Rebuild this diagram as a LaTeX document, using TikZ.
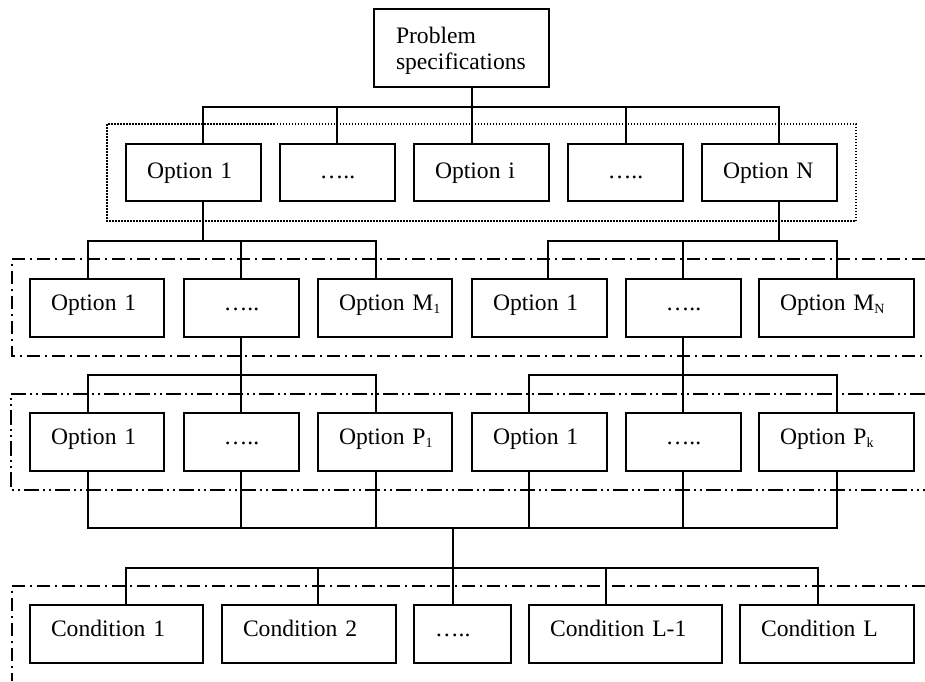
\documentclass[tikz,border=0pt]{standalone}
\usepackage{fontspec}
\setmainfont{Liberation Serif}
\newcommand\mysub[1]{\raisebox{-3pt}{\fontsize{14}{14}\selectfont #1}}
\newcommand\mkbox[7]{%
  \pgfmathsetmacro\mybw{#4-#2-42}%
  \pgfmathsetmacro\mycx{(#2+#4)/2}%
  \pgfmathsetmacro\mycy{(#3+#5)/2}%
  \pgfmathsetmacro\mybh{#5-#3}%
  \node[bx,#6,text width=\mybw pt,minimum height=\mybh pt] (#1) at (\mycx,\mycy) {#7};}
\begin{document}
\begin{tikzpicture}[x=1pt,y=-1pt,
  bx/.style={draw, line width=2pt, inner xsep=21pt, inner ysep=0pt, align=left,
    font=\fontsize{23.6}{25}\selectfont, text height=16.5pt, text depth=10.6pt},
  lvone/.style={text depth=4.7pt},
  mid/.style={align=center},
  topbox/.style={text height=, text depth=, inner xsep=22pt, font=\fontsize{23.6}{26}\selectfont},
  wire/.style={line width=2pt, line cap=rect},
  dotframe/.style={line width=1.5pt, dash pattern=on 1.5pt off 1.5pt},
  dashdot/.style={line width=1.6pt, dash pattern=on 13pt off 5pt on 2pt off 5pt},
  dashdotdot/.style={line width=1.6pt, dash pattern=on 15pt off 4pt on 2pt off 4pt on 2pt off 4pt}]
\useasboundingbox (0,0) rectangle (925,681);

% frames
\draw[dotframe] (107,124) rectangle (856,221);
\draw[dashdot] (925,259) -- (12,259) -- (12,356) -- (925,356);
\draw[dashdotdot] (925,394) -- (11,394) -- (11,490) -- (925,490);
\draw[dashdot] (925,586) -- (12,586) -- (12,681);

% top
\mkbox{top}{375}{9}{548}{87}{topbox}{\rule{0pt}{22pt}Problem\\specifications}

% level 1
\mkbox{a1}{126}{144}{261}{201}{lvone}{\mbox{Option 1}}
\mkbox{a2}{280}{144}{395}{201}{lvone,mid}{…..}
\mkbox{a3}{414}{144}{549}{201}{lvone}{\mbox{Option i}}
\mkbox{a4}{568}{144}{683}{201}{lvone,mid}{…..}
\mkbox{a5}{702}{144}{837}{201}{lvone}{\mbox{Option N}}

% level 2
\mkbox{b1}{30}{279}{164}{337}{}{\mbox{Option 1}}
\mkbox{b2}{184}{279}{299}{337}{mid}{…..}
\mkbox{b3}{318}{279}{452}{337}{}{\mbox{Option M\mysub{1}}}
\mkbox{b4}{472}{279}{607}{337}{}{\mbox{Option 1}}
\mkbox{b5}{626}{279}{741}{337}{mid}{…..}
\mkbox{b6}{759}{279}{914}{337}{}{\mbox{Option M\mysub{N}}}

% level 3
\mkbox{c1}{30}{413}{164}{471}{}{\mbox{Option 1}}
\mkbox{c2}{184}{413}{299}{471}{mid}{…..}
\mkbox{c3}{318}{413}{452}{471}{}{\mbox{Option P\mysub{1}}}
\mkbox{c4}{472}{413}{607}{471}{}{\mbox{Option 1}}
\mkbox{c5}{626}{413}{741}{471}{mid}{…..}
\mkbox{c6}{759}{413}{914}{471}{}{\mbox{Option P\mysub{k}}}

% level 4
\mkbox{d1}{30}{605}{203}{663}{}{\mbox{Condition 1}}
\mkbox{d2}{222}{605}{396}{663}{}{\mbox{Condition 2}}
\mkbox{d3}{414}{605}{511}{663}{}{…..}
\mkbox{d4}{529}{605}{722}{663}{}{\mbox{Condition L-1}}
\mkbox{d5}{740}{605}{914}{663}{}{\mbox{Condition L}}

% connectors: top -> level 1
\coordinate (j0) at (472,107);
\draw[wire] (j0 |- top.south) -- (j0);
\foreach \x/\n [count=\i] in {203/a1,337/a2,472/a3,626/a4,779/a5}{
  \coordinate (ja\i) at (\x,107);
  \draw[wire] (ja\i) -- (ja\i |- \n.north);}
\draw[wire] (ja1) -- (ja5);

% level 1 -> level 2
\coordinate (jbl) at (203,241);
\draw[wire] (jbl |- a1.south) -- (jbl);
\foreach \x/\n [count=\i] in {88/b1,241/b2,376/b3}{
  \coordinate (jbl\i) at (\x,241);
  \draw[wire] (jbl\i) -- (jbl\i |- \n.north);}
\draw[wire] (jbl1) -- (jbl3);
\coordinate (jbr) at (779,241);
\draw[wire] (jbr |- a5.south) -- (jbr);
\foreach \x/\n [count=\i] in {548/b4,683/b5,837/b6}{
  \coordinate (jbr\i) at (\x,241);
  \draw[wire] (jbr\i) -- (jbr\i |- \n.north);}
\draw[wire] (jbr1) -- (jbr3);

% level 2 -> level 3
\coordinate (jcl) at (241,375);
\draw[wire] (jcl |- b2.south) -- (jcl);
\foreach \x/\n [count=\i] in {88/c1,241/c2,376/c3}{
  \coordinate (jcl\i) at (\x,375);
  \draw[wire] (jcl\i) -- (jcl\i |- \n.north);}
\draw[wire] (jcl1) -- (jcl3);
\coordinate (jcr) at (683,375);
\draw[wire] (jcr |- b5.south) -- (jcr);
\foreach \x/\n [count=\i] in {529/c4,683/c5,837/c6}{
  \coordinate (jcr\i) at (\x,375);
  \draw[wire] (jcr\i) -- (jcr\i |- \n.north);}
\draw[wire] (jcr1) -- (jcr3);

% level 3 -> collector
\foreach \x/\n [count=\i] in {88/c1,241/c2,376/c3,529/c4,683/c5,837/c6}{
  \coordinate (jd\i) at (\x,528);
  \draw[wire] (jd\i |- \n.south) -- (jd\i);}
\draw[wire] (jd1) -- (jd6);
\coordinate (jm) at (453,528);
\coordinate (je) at (453,568);
\draw[wire] (jm) -- (je);

% collector -> level 4
\foreach \x/\n [count=\i] in {126/d1,318/d2,453/d3,606/d4,818/d5}{
  \coordinate (je\i) at (\x,568);
  \draw[wire] (je\i) -- (je\i |- \n.north);}
\draw[wire] (je1) -- (je5);
\end{tikzpicture}
\end{document}
